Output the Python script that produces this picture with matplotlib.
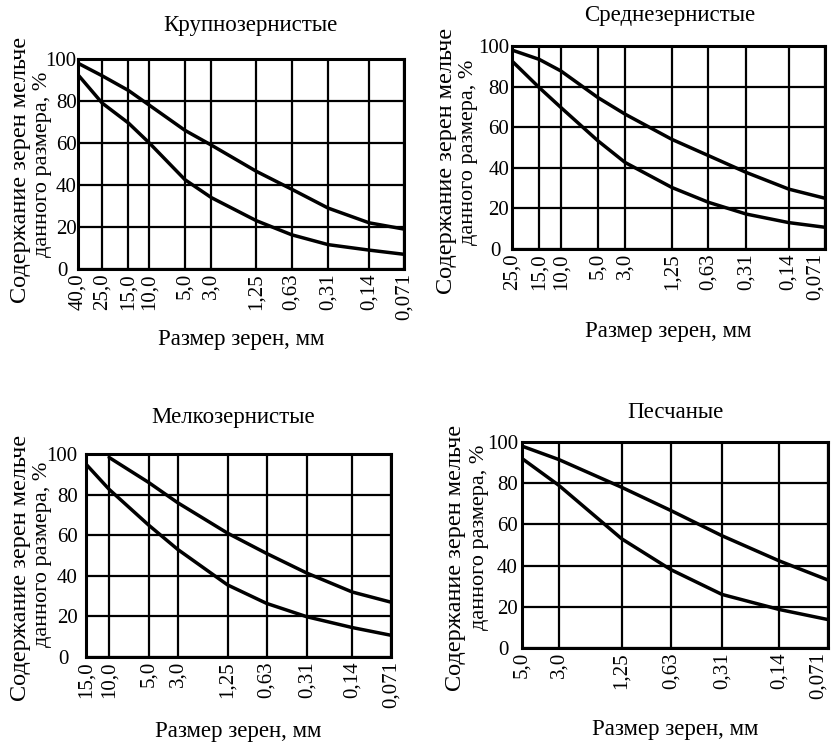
import matplotlib
matplotlib.use("Agg")
import matplotlib.pyplot as plt
from matplotlib.transforms import ScaledTranslation

plt.rcParams['font.family'] = ['Liberation Serif', 'DejaVu Serif']

titles = ["Крупнозернистые", "Среднезернистые", "Мелкозернистые", "Песчаные"]
xlabel = "Размер зерен, мм"
ylabel_line1 = "Содержание зерен мельче"
ylabel_line2 = "данного размера, %"

sizes1 = [40.0, 25.0, 15.0, 10.0, 5.0, 3.0, 1.25, 0.63, 0.31, 0.14, 0.071]
ticklabels1 = ["40,0", "25,0", "15,0", "10,0", "5,0", "3,0", "1,25", "0,63", "0,31", "0,14", "0,071"]
upper1 = [98, 92, 85, 78, 66, 59, 46.5, 38, 29, 22, 19]
lower1 = [92.5, 79, 69.5, 60, 42.5, 34, 23, 16.3, 11.6, 9, 7]

sizes2 = [25.0, 15.0, 10.0, 5.0, 3.0, 1.25, 0.63, 0.31, 0.14, 0.071]
ticklabels2 = ["25,0", "15,0", "10,0", "5,0", "3,0", "1,25", "0,63", "0,31", "0,14", "0,071"]
upper2 = [98, 93.4, 87.7, 74.6, 66.4, 54, 46, 37.7, 29.5, 25]
lower2 = [92.6, 79.5, 69.7, 53.3, 42.6, 30.3, 23, 17.2, 13, 10.7]

sizes3 = [15.0, 10.0, 5.0, 3.0, 1.25, 0.63, 0.31, 0.14, 0.071]
ticklabels3 = ["15,0", "10,0", "5,0", "3,0", "1,25", "0,63", "0,31", "0,14", "0,071"]
upper3_sizes = [10.0, 5.0, 3.0, 1.25, 0.63, 0.31, 0.14, 0.071]
upper3 = [98.3, 86, 76, 61, 51, 41.3, 32, 27]
lower3 = [95, 82.6, 65, 53, 35.5, 26.4, 19.8, 14.5, 10.7]

sizes4 = [5.0, 3.0, 1.25, 0.63, 0.31, 0.14, 0.071]
ticklabels4 = ["5,0", "3,0", "1,25", "0,63", "0,31", "0,14", "0,071"]
upper4 = [98, 91.5, 78, 66.7, 54.5, 42.3, 33]
lower4 = [92, 79, 53, 38, 26, 18.7, 13.8]

yticks = [0, 20, 40, 60, 80, 100]

W, H = 833, 745
fig = plt.figure(figsize=(W / 100, H / 100), dpi=100)

def px_box(l, r, t, b):
    return [l / W, 1 - b / H, (r - l) / W, (b - t) / H]

panels = [
    dict(box=(78, 404, 59, 269), sizes=sizes1, labels=ticklabels1,
         curves=[(sizes1, upper1), (sizes1, lower1)],
         title_xy=(250, 25), xlab_y=340, ypad=1,
         yl1=(21, 37), yl2=(43, 72)),
    dict(box=(512, 825, 46, 249), sizes=sizes2, labels=ticklabels2,
         curves=[(sizes2, upper2), (sizes2, lower2)],
         title_xy=(670, 15), xlab_y=332, ypad=2,
         yl1=(447, 28), yl2=(469, 60)),
    dict(box=(86, 391, 454, 657), sizes=sizes3, labels=ticklabels3,
         curves=[(upper3_sizes, upper3), (sizes3, lower3)],
         title_xy=(233, 418), xlab_y=732, ypad=6,
         yl1=(21, 435), yl2=(43, 462)),
    dict(box=(522, 828, 442, 648), sizes=sizes4, labels=ticklabels4,
         curves=[(sizes4, upper4), (sizes4, lower4)],
         title_xy=(675, 412), xlab_y=730, ypad=3,
         yl1=(456, 425), yl2=(479, 445)),
]

FS = 15
FS_BIG = 16.5
for i, (p, title) in enumerate(zip(panels, titles)):
    l, r, t, b = p['box']
    ax = fig.add_axes(px_box(l, r, t, b))
    ax.set_xscale('log')
    ax.set_xlim(p['sizes'][0], p['sizes'][-1])
    ax.set_ylim(0, 100)
    for xs, ys in p['curves']:
        ax.plot(xs, ys, color='black', lw=2.5, solid_capstyle='round')
    ax.set_xticks(p['sizes'])
    ax.set_xticklabels(p['labels'], rotation=90, fontsize=FS)
    ax.xaxis.set_minor_locator(matplotlib.ticker.NullLocator())
    ax.set_yticks(yticks)
    ax.set_yticklabels([str(v) for v in yticks], fontsize=FS)
    ax.tick_params(axis='x', length=0, pad=3)
    ax.tick_params(axis='y', length=0, pad=p['ypad'])
    ax.grid(True, color='black', lw=1.6)
    for s in ax.spines.values():
        s.set_linewidth(2.2)
    if i in (1, 3):
        ax.get_xticklabels()[-1].set_horizontalalignment('right')
    zero_lab = ax.get_yticklabels()[0]
    zero_lab.set_transform(zero_lab.get_transform() +
                           ScaledTranslation(-9 / 100, 0, fig.dpi_scale_trans))
    fig.text(p['title_xy'][0] / W, 1 - p['title_xy'][1] / H, title,
             ha='center', va='center', fontsize=FS_BIG)
    fig.text((l + r) / 2 / W, 1 - p['xlab_y'] / H, xlabel,
             ha='center', va='center', fontsize=FS_BIG)
    fig.text(p['yl1'][0] / W, 1 - p['yl1'][1] / H, ylabel_line1,
             rotation=90, ha='center', va='top', fontsize=17.5)
    fig.text(p['yl2'][0] / W, 1 - p['yl2'][1] / H, ylabel_line2,
             rotation=90, ha='center', va='top', fontsize=16)

fig.savefig("out.png", dpi=100, facecolor='white')
